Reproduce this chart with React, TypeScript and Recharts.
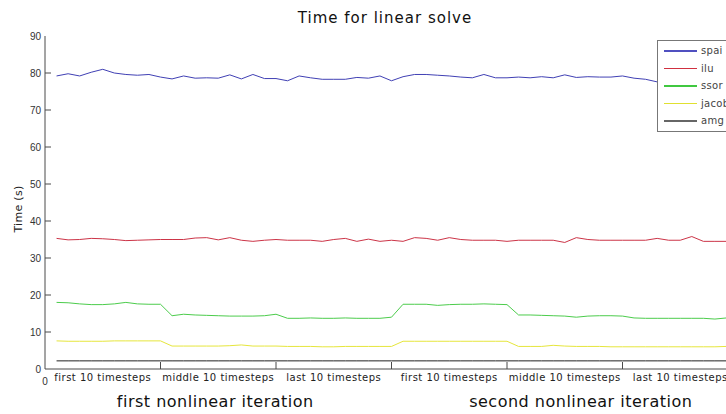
import { LineChart, Line, XAxis, YAxis } from "recharts";

// timestep index, 3 blocks of 10 per nonlinear iteration
const steps = Array.from({ length: 60 }, (_, i) => i + 1);

const spai = [
  79.2, 79.8, 79.2, 80.2, 81.0, 80.0, 79.6, 79.4, 79.6, 78.9,
  78.4, 79.2, 78.6, 78.7, 78.6, 79.5, 78.4, 79.6, 78.5, 78.5,
  77.9, 79.2, 78.7, 78.3, 78.3, 78.3, 78.8, 78.6, 79.2, 77.9,
  79.0, 79.6, 79.6, 79.4, 79.2, 78.9, 78.7, 79.6, 78.7, 78.7,
  78.9, 78.7, 79.0, 78.7, 79.5, 78.8, 79.0, 78.9, 78.9, 79.2,
  78.6, 78.3, 77.6, 78.4, 78.9, 78.6, 79.1, 78.5, 78.8, 78.7,
];
const ilu = [
  35.3, 34.9, 35.0, 35.3, 35.2, 35.0, 34.7, 34.8, 34.9, 35.0,
  35.0, 35.0, 35.4, 35.5, 34.9, 35.5, 34.8, 34.5, 34.8, 35.0,
  34.8, 34.8, 34.8, 34.5, 35.0, 35.3, 34.5, 35.1, 34.5, 34.8,
  34.5, 35.5, 35.3, 34.8, 35.5, 35.0, 34.8, 34.8, 34.8, 34.5,
  34.8, 34.8, 34.8, 34.8, 34.2, 35.5, 35.0, 34.8, 34.8, 34.8,
  34.8, 34.8, 35.3, 34.8, 34.8, 35.8, 34.5, 34.5, 34.5, 34.5,
];
const ssor = [
  18.0, 17.9, 17.6, 17.4, 17.4, 17.6, 18.0, 17.6, 17.5, 17.5,
  14.4, 14.8, 14.6, 14.5, 14.4, 14.3, 14.3, 14.3, 14.4, 14.8,
  13.7, 13.7, 13.8, 13.7, 13.7, 13.8, 13.7, 13.7, 13.7, 14.0,
  17.5, 17.5, 17.5, 17.2, 17.4, 17.5, 17.5, 17.6, 17.5, 17.4,
  14.6, 14.6, 14.5, 14.4, 14.3, 14.0, 14.3, 14.4, 14.4, 14.3,
  13.8, 13.7, 13.7, 13.7, 13.7, 13.7, 13.7, 13.5, 13.8, 13.8,
];
const jacobi = [
  7.6, 7.5, 7.5, 7.5, 7.5, 7.6, 7.6, 7.6, 7.6, 7.6,
  6.2, 6.2, 6.2, 6.2, 6.2, 6.3, 6.5, 6.2, 6.2, 6.2,
  6.1, 6.1, 6.1, 6.0, 6.0, 6.1, 6.1, 6.1, 6.1, 6.1,
  7.5, 7.5, 7.5, 7.5, 7.5, 7.5, 7.5, 7.5, 7.5, 7.5,
  6.1, 6.1, 6.1, 6.4, 6.2, 6.1, 6.1, 6.1, 6.0, 6.0,
  6.0, 6.0, 6.0, 6.0, 6.0, 6.0, 6.0, 6.0, 6.1, 6.1,
];
const amg = [
  2.2, 2.2, 2.2, 2.2, 2.2, 2.2, 2.2, 2.2, 2.2, 2.2,
  2.2, 2.2, 2.2, 2.2, 2.2, 2.2, 2.2, 2.2, 2.2, 2.2,
  2.2, 2.2, 2.2, 2.2, 2.2, 2.2, 2.2, 2.2, 2.2, 2.2,
  2.2, 2.2, 2.2, 2.2, 2.2, 2.2, 2.2, 2.2, 2.2, 2.2,
  2.2, 2.2, 2.2, 2.2, 2.2, 2.2, 2.2, 2.2, 2.2, 2.2,
  2.2, 2.2, 2.2, 2.2, 2.2, 2.2, 2.2, 2.2, 2.2, 2.2,
];

const stageLabels = [
  "first 10 timesteps",
  "middle 10 timesteps",
  "last 10 timesteps",
  "first 10 timesteps",
  "middle 10 timesteps",
  "last 10 timesteps",
];
const iterationLabels = ["first nonlinear iteration", "second nonlinear iteration"];
const yTicks = [0, 10, 20, 30, 40, 50, 60, 70, 80, 90];
const xTicks = [0, 5, 10, 15, 20, 25, 30, 35, 40, 45, 50, 55, 60];
const topTicks = [10, 20, 30, 40, 50];

const series = [
  { key: "spai", color: "#4040b4", legendColor: "#5050c0", legendWidth: 2 },
  { key: "ilu", color: "#cc3447", legendColor: "#d03040", legendWidth: 1.5 },
  { key: "ssor", color: "#4ccc4c", legendColor: "#40c840", legendWidth: 1.5 },
  { key: "jacobi", color: "#e6e63c", legendColor: "#e0e030", legendWidth: 1.5 },
  { key: "amg", color: "#222222", legendColor: "#666666", legendWidth: 2 },
];

const data = steps.map((step, i) => ({
  step,
  spai: spai[i],
  ilu: ilu[i],
  ssor: ssor[i],
  jacobi: jacobi[i],
  amg: amg[i],
}));

const AXIS = "#4a4a4a";
const LABEL_FONT = "DejaVu Sans, Verdana, sans-serif";
const NUM_FONT = "Liberation Sans, Arial, sans-serif";

function LeftTick(props: any) {
  const { x, y, payload } = props;
  return (
    <g>
      {payload.value !== 0 && payload.value !== 90 && (
        <line x1={x} x2={x + 6} y1={y} y2={y} stroke={AXIS} />
      )}
      <text x={x - 4} y={y} dy={3.5} textAnchor="end" fontSize={10} fontFamily={NUM_FONT} fill="#333">
        {payload.value}
      </text>
    </g>
  );
}

function BottomTick(props: any) {
  const { x, y, payload } = props;
  const v = payload.value;
  if (v === 0) {
    return (
      <text x={x} y={y + 16} textAnchor="middle" fontSize={10} fontFamily={NUM_FONT} fill="#333">
        0
      </text>
    );
  }
  if (v % 10 === 0) {
    return <line x1={x} x2={x} y1={y} y2={y - 7} stroke={AXIS} />;
  }
  const idx = (v - 5) / 10;
  return (
    <g>
      <text x={x} y={y + 12} textAnchor="middle" fontSize={10} letterSpacing={0.5} fontFamily={LABEL_FONT} fill="#222">
        {stageLabels[idx]}
      </text>
      {idx === 1 && (
        <text x={x - 3} y={y + 38} textAnchor="middle" fontSize={16} letterSpacing={0.5} fontFamily={LABEL_FONT} fill="#111">
          {iterationLabels[0]}
        </text>
      )}
      {idx === 4 && (
        <text x={x + 16} y={y + 38} textAnchor="middle" fontSize={16} letterSpacing={0.5} fontFamily={LABEL_FONT} fill="#111">
          {iterationLabels[1]}
        </text>
      )}
    </g>
  );
}

function TopTick(props: any) {
  const { x, y } = props;
  return <line x1={x} x2={x} y1={y} y2={y + 7} stroke={AXIS} />;
}

export default function App() {
  return (
    <div style={{ position: "absolute", left: 0, top: 0, width: 726, height: 414, overflow: "hidden", background: "#fff" }}>
      <div
        style={{
          position: "absolute", left: 0, top: 9, width: 770, textAlign: "center",
          fontFamily: LABEL_FONT, fontSize: 15, letterSpacing: 1, color: "#111", lineHeight: "18px",
        }}
      >
        Time for linear solve
      </div>
      <div
        style={{
          position: "absolute", left: 18, top: 209, transform: "translate(-50%, -50%) rotate(-90deg)",
          fontFamily: LABEL_FONT, fontSize: 11, letterSpacing: 0.3, color: "#222", whiteSpace: "nowrap",
        }}
      >
        Time (s)
      </div>

      <LineChart width={760} height={414} data={data} margin={{ top: 36, right: 22, bottom: 0, left: 0 }}>
        <XAxis
          xAxisId="top"
          orientation="top"
          dataKey="step"
          type="number"
          domain={[0, 60]}
          ticks={topTicks}
          interval={0}
          height={0}
          tickSize={0}
          tickMargin={0}
          axisLine={{ stroke: AXIS }}
          tick={(p: any) => <TopTick {...p} />}
        />
        <XAxis
          dataKey="step"
          type="number"
          domain={[0, 60]}
          ticks={xTicks}
          interval={0}
          height={45}
          tickSize={0}
          tickMargin={0}
          axisLine={{ stroke: AXIS }}
          tick={(p: any) => <BottomTick {...p} />}
        />
        <YAxis
          type="number"
          domain={[0, 90]}
          ticks={yTicks}
          interval={0}
          width={45}
          tickSize={0}
          tickMargin={0}
          axisLine={{ stroke: AXIS }}
          tick={(p: any) => <LeftTick {...p} />}
        />
        {series.map((s) => (
          <Line
            key={s.key}
            dataKey={s.key}
            type="linear"
            stroke={s.color}
            strokeWidth={1}
            dot={false}
            activeDot={false}
            isAnimationActive={false}
          />
        ))}
      </LineChart>

      {/* legend box, runs off the right edge like the original */}
      <div
        style={{
          position: "absolute", left: 657, top: 40, width: 80, height: 90,
          border: "1px solid #777", background: "#fff",
        }}
      >
        {series.map((s, i) => (
          <div key={s.key} style={{ position: "absolute", left: 0, top: 10 + i * 17.5, height: 0 }}>
            <div
              style={{
                position: "absolute", left: 6, top: -s.legendWidth / 2, width: 33,
                height: s.legendWidth, background: s.legendColor,
              }}
            />
            <span
              style={{
                position: "absolute", left: 43, top: -7, fontFamily: LABEL_FONT, fontSize: 10,
                letterSpacing: 0.3, color: "#444", whiteSpace: "nowrap", lineHeight: "13px",
              }}
            >
              {s.key}
            </span>
          </div>
        ))}
      </div>
    </div>
  );
}
